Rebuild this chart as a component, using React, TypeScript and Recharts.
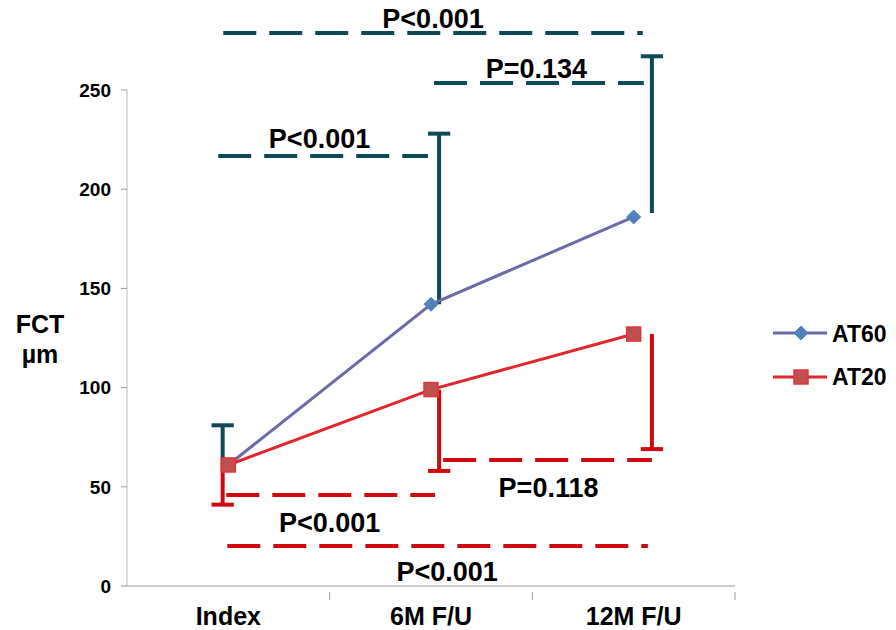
import {
  LineChart,
  Line,
  XAxis,
  YAxis,
  Legend,
  ReferenceLine,
  ReferenceDot,
} from "recharts";

const categories = ["Index", "6M F/U", "12M F/U"];
const at60 = [61, 142, 186];
const at20 = [61, 99, 127];

// error bars (base -> end, cap drawn at end)
const at60ErrBase = [61, 142, 188];
const at60ErrEnd = [81, 228, 267];
const at20ErrBase = [61, 99, 127];
const at20ErrEnd = [41, 58, 69];
const errOffsetX = [-0.028, 0.04, 0.09];

// p-value brackets
const pText = ["P<0.001", "P=0.134", "P<0.001", "P<0.001", "P=0.118", "P<0.001"];
const pGroup = ["AT60", "AT60", "AT60", "AT20", "AT20", "AT20"];
const pLineY = [278.7, 253.5, 216.7, 45.9, 63.5, 20.2];
const pLineFrom = [-0.025, 1.015, -0.05, -0.01, 1.06, -0.005];
const pLineTo = [2.045, 2.05, 0.985, 1.02, 2.09, 2.07];
const pLabelX = [1.01, 1.52, 0.45, 0.5, 1.58, 1.08];
const pLabelY = [286.3, 261.1, 225.8, 31.8, 49.9, 7.6];

const yTicks = [0, 50, 100, 150, 200, 250];

const TEAL = "#0E4A55";
const RED = "#D0090F";
const AT60_LINE = "#6B6BA8";
const AT20_LINE = "#E2262E";
const FONT = "'Liberation Sans', Arial, sans-serif";

const W = 896;
const H = 630;
const MARGIN = { top: 90, right: 161, bottom: 0, left: 20 };
const BAND = (W - 127 - MARGIN.right) / categories.length;

const data = categories.map((c, i) => ({ x: i, AT60: at60[i], AT20: at20[i] }));

const Diamond = (props: any) => {
  const { cx, cy } = props;
  if (cx == null || cy == null) return null;
  const r = 7;
  return (
    <path
      d={`M${cx},${cy - r}L${cx + r},${cy}L${cx},${cy + r}L${cx - r},${cy}Z`}
      fill="#4F81BD"
      stroke="#5B7FC0"
      strokeWidth={1}
    />
  );
};

const Square = (props: any) => {
  const { cx, cy } = props;
  if (cx == null || cy == null) return null;
  const s = 7;
  return (
    <rect
      x={cx - s}
      y={cy - s}
      width={s * 2}
      height={s * 2}
      fill="#C0504D"
      stroke="#E2343C"
      strokeWidth={1.5}
    />
  );
};

const CatTick = (props: any) => {
  const { x, y, payload } = props;
  return (
    <g>
      <line x1={x + BAND / 2} y1={y - 2} x2={x + BAND / 2} y2={y + 6} stroke="#999" strokeWidth={1} />
      <text
        x={x}
        y={y + 31}
        textAnchor="middle"
        fontFamily={FONT}
        fontWeight="bold"
        fontSize={25}
        fill="#000"
      >
        {categories[payload.value]}
      </text>
    </g>
  );
};

const YLabel = () => (
  <text fontFamily={FONT} fontWeight="bold" fontSize={25} fill="#000" textAnchor="middle">
    <tspan x={40} y={333}>FCT</tspan>
    <tspan x={40} y={363}>µm</tspan>
  </text>
);

const LegendContent = () => (
  <svg width={130} height={80}>
    <line x1={3} y1={15} x2={57} y2={15} stroke={AT60_LINE} strokeWidth={3} />
    <Diamond cx={31} cy={15} />
    <text x={62} y={24} fontFamily={FONT} fontWeight="bold" fontSize={23} fill="#000">
      AT60
    </text>
    <line x1={3} y1={59} x2={57} y2={59} stroke={AT20_LINE} strokeWidth={3} />
    <Square cx={31} cy={59} />
    <text x={62} y={67} fontFamily={FONT} fontWeight="bold" fontSize={23} fill="#000">
      AT20
    </text>
  </svg>
);

function errorBar(key: string, i: number, base: number, end: number, color: string) {
  const x = i + errOffsetX[i];
  return [
    <ReferenceLine
      key={`${key}-v-${i}`}
      segment={[{ x, y: base }, { x, y: end }]}
      stroke={color}
      strokeWidth={4}
      ifOverflow="visible"
    />,
    <ReferenceLine
      key={`${key}-c-${i}`}
      segment={[{ x: x - 0.055, y: end }, { x: x + 0.055, y: end }]}
      stroke={color}
      strokeWidth={4}
      ifOverflow="visible"
    />,
  ];
}

export default function App() {
  return (
    <div style={{ position: "absolute", left: 0, top: 0, background: "#fff" }}>
      <LineChart width={W} height={H} data={data} margin={MARGIN}>
        <XAxis
          dataKey="x"
          type="number"
          domain={[-0.5, 2.5]}
          ticks={[0, 1, 2]}
          tick={<CatTick />}
          tickLine={false}
          axisLine={{ stroke: "#999" }}
          height={44}
          interval={0}
        />
        <YAxis
          domain={[0, 250]}
          ticks={yTicks}
          width={107}
          tickSize={6}
          tickMargin={10}
          axisLine={{ stroke: "#bbb" }}
          tickLine={{ stroke: "#999" }}
          tick={{ fill: "#000", fontSize: 19, fontWeight: "bold", fontFamily: FONT }}
          label={{ content: <YLabel /> }}
        />
        <Legend
          layout="horizontal"
          verticalAlign="middle"
          align="center"
          content={<LegendContent />}
          wrapperStyle={{ position: "absolute", left: 770, top: 318, width: 130 }}
        />
        {pText.map((t, i) => (
          <ReferenceLine
            key={`pl-${i}`}
            segment={[
              { x: pLineFrom[i], y: pLineY[i] },
              { x: pLineTo[i], y: pLineY[i] },
            ]}
            stroke={pGroup[i] === "AT60" ? TEAL : RED}
            strokeWidth={4}
            strokeDasharray="33 13"
            ifOverflow="visible"
          />
        ))}
        {at60.map((_, i) => errorBar("e60", i, at60ErrBase[i], at60ErrEnd[i], TEAL))}
        {at20.map((_, i) => errorBar("e20", i, at20ErrBase[i], at20ErrEnd[i], RED))}
        {pText.map((t, i) => (
          <ReferenceDot
            key={`pt-${i}`}
            x={pLabelX[i]}
            y={pLabelY[i]}
            r={0}
            fill="none"
            stroke="none"
            ifOverflow="visible"
            label={{
              value: t,
              position: "center",
              fill: "#000",
              fontSize: 27,
              fontWeight: "bold",
              fontFamily: FONT,
            }}
          />
        ))}
        <Line
          dataKey="AT60"
          stroke={AT60_LINE}
          strokeWidth={3}
          dot={<Diamond />}
          activeDot={false}
          isAnimationActive={false}
        />
        <Line
          dataKey="AT20"
          stroke={AT20_LINE}
          strokeWidth={3}
          dot={<Square />}
          activeDot={false}
          isAnimationActive={false}
        />
      </LineChart>
    </div>
  );
}
